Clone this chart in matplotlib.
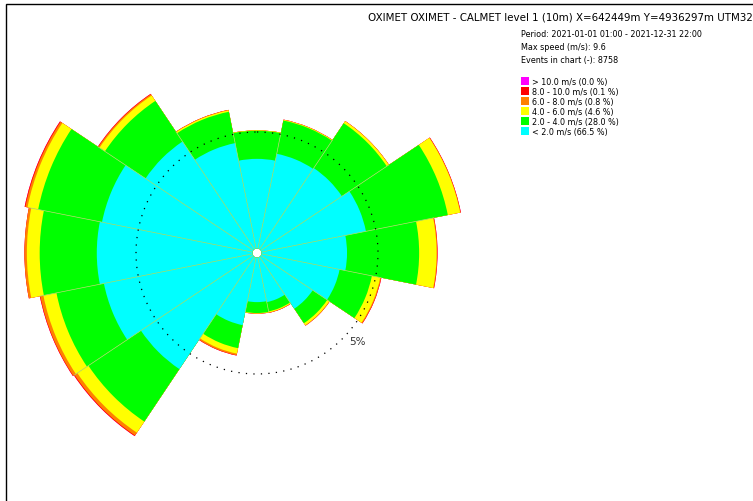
import numpy as np
import matplotlib
matplotlib.use("Agg")
import matplotlib.pyplot as plt
from matplotlib.patches import Rectangle

W, H, DPI = 753, 502, 100

directions = ["N", "NNE", "NE", "ENE", "E", "ESE", "SE", "SSE",
              "S", "SSW", "SW", "WSW", "W", "WNW", "NW", "NNW"]

# Frequency (%) of each speed class per direction sector
speed_lt2 = [3.70, 3.99, 4.03, 4.40, 3.53, 3.29, 2.58, 1.88,
             1.84, 2.85, 5.58, 6.26, 6.43, 6.34, 5.35, 4.44]
speed_2_4 = [1.16, 1.40, 2.23, 3.45, 2.98, 1.36, 0.72, 0.39,
             0.45, 0.97, 2.61, 2.00, 2.36, 2.69, 2.02, 1.32]
speed_4_6 = [0.02, 0.03, 0.10, 0.52, 0.72, 0.35, 0.10, 0.04,
             0.02, 0.23, 0.55, 0.55, 0.53, 0.45, 0.27, 0.06]
speed_6_8 = [0.00, 0.01, 0.01, 0.02, 0.03, 0.04, 0.02, 0.02,
             0.01, 0.07, 0.14, 0.13, 0.10, 0.09, 0.06, 0.02]
speed_8_10 = [0.00, 0.00, 0.00, 0.01, 0.01, 0.01, 0.00, 0.00,
              0.00, 0.01, 0.03, 0.02, 0.00, 0.03, 0.02, 0.00]
speed_gt10 = [0.00] * 16

class_labels = ["< 2.0 m/s (66.5 %)", "2.0 - 4.0 m/s (28.0 %)",
                "4.0 - 6.0 m/s (4.6 %)", "6.0 - 8.0 m/s (0.8 %)",
                "8.0 - 10.0 m/s (0.1 %)", "> 10.0 m/s (0.0 %)"]
class_colors = ["#00FFFF", "#00FF00", "#FFFF00", "#FF8000", "#FF0000", "#FF00FF"]

title = "OXIMET OXIMET - CALMET level 1 (10m) X=642449m Y=4936297m UTM32"
info_lines = ["Period: 2021-01-01 01:00 - 2021-12-31 22:00",
              "Max speed (m/s): 9.6",
              "Events in chart (-): 8758"]
ring_value = 5
HOLE = 0.19  # empty disc in the middle of the rose (%)

classes = np.array([speed_lt2, speed_2_4, speed_4_6, speed_6_8, speed_8_10, speed_gt10])
cumulative = np.cumsum(classes, axis=0)

fig = plt.figure(figsize=(W / DPI, H / DPI), dpi=DPI)
fig.patch.set_facecolor("white")

# polar axes: centre at (257, 254) px, 24.2 px per percent
cx, cy, rpx, rmax = 257, 254, 242, 10.0
ax = fig.add_axes([(cx - rpx) / W, (H - cy - rpx) / H, 2 * rpx / W, 2 * rpx / H],
                  projection="polar")
ax.set_theta_zero_location("N")
ax.set_theta_direction(-1)
ax.set_ylim(0, rmax)
ax.axis("off")

n = len(directions)
theta = np.deg2rad(np.arange(n) * 360.0 / n)
width = 2 * np.pi / n
# outermost class first, each wedge from the hole to its cumulative value
for k in range(len(class_colors) - 1, -1, -1):
    ax.bar(theta, cumulative[k], width=width, bottom=HOLE, color=class_colors[k],
           linewidth=0, align="center", clip_on=False, zorder=2 + (5 - k))

# faint seams between neighbouring sectors
total = cumulative[-1]
for i in range(n):
    edge = theta[i] - width / 2
    reach = min(total[i], total[i - 1]) + HOLE
    ax.plot([edge, edge], [HOLE, reach], color="#a8dc78", lw=0.5,
            zorder=10, solid_capstyle="butt")

# dotted reference ring
t = np.linspace(0, 2 * np.pi, 400)
ax.plot(t, np.full_like(t, ring_value), color="black", lw=0.9,
        linestyle=(0, (1, 5)), zorder=20, clip_on=False)
ax.annotate(f"{ring_value}%", xy=(np.deg2rad(135), ring_value), xytext=(4.5, -1.5),
            textcoords="offset points", ha="left", va="center",
            fontsize=7.5, color="#333333", zorder=21, annotation_clip=False)

# figure frame
fig.add_artist(Rectangle((5.5 / W, -0.1), 1.2, (H - 4.5) / H + 0.1,
                         transform=fig.transFigure, fill=False,
                         edgecolor="black", linewidth=1.0, clip_on=False))

# title and info block
fig.text(368 / W, 1 - 17 / H, title, fontsize=7.4, ha="left", va="center", color="black")
for i, line in enumerate(info_lines):
    fig.text(521 / W, 1 - (35 + 13 * i) / H, line, fontsize=5.8,
             ha="left", va="center", color="black")

# legend, highest class on top
for j, k in enumerate(range(len(class_colors) - 1, -1, -1)):
    yc = 82 + 10 * j
    fig.add_artist(Rectangle((521 / W, 1 - (yc + 4.2) / H), 8 / W, 8.5 / H,
                             transform=fig.transFigure, facecolor=class_colors[k],
                             edgecolor="none"))
    fig.text(532 / W, 1 - yc / H, class_labels[k], fontsize=5.8,
             ha="left", va="center", color="black")

fig.savefig("out.png", dpi=DPI)
